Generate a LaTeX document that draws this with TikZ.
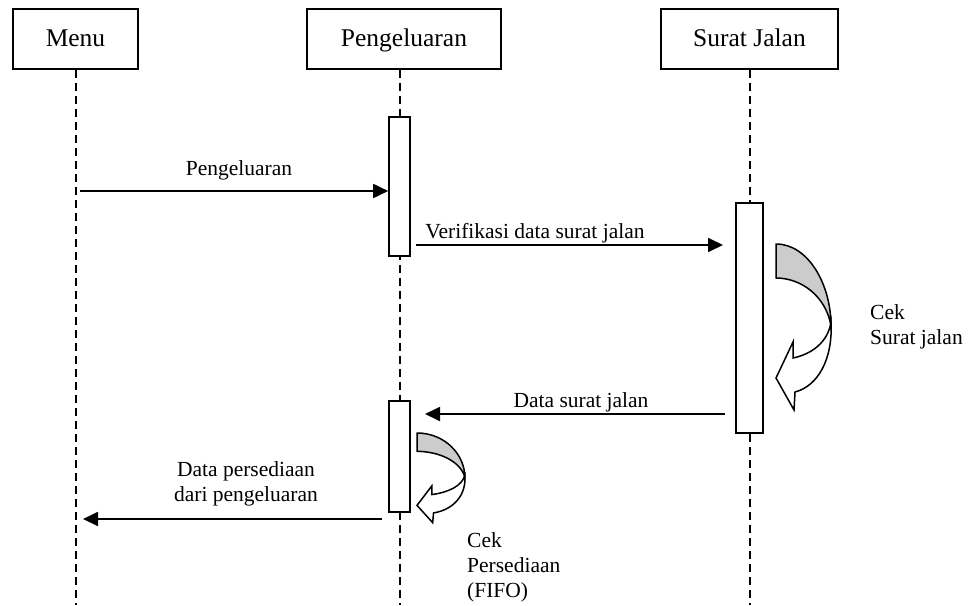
\documentclass[tikz,border=0pt]{standalone}
\usepackage{fontspec}
\setmainfont{Liberation Serif}
\usetikzlibrary{arrows.meta}
\definecolor{backface}{RGB}{204,204,204}
\begin{document}
\begin{tikzpicture}[x=1pt,y=-1pt,
  obj/.style={draw,line width=1.8pt,minimum width=#1,minimum height=60pt,
    inner sep=0pt,text height=18pt,text depth=3pt,font=\fontsize{25.5}{30}\selectfont},
  life/.style={line width=1.3pt,dash pattern=on 8pt off 5pt},
  act/.style 2 args={draw,fill=white,line width=1.6pt,minimum width=#1,
    minimum height=#2,inner sep=0pt},
  msg/.style={line width=1.8pt,-{Triangle[length=15pt,width=14pt]}},
  lbl/.style={font=\fontsize{21.5}{25}\selectfont,inner sep=0pt,align=center},
  note/.style={font=\fontsize{21.5}{25}\selectfont,inner sep=0pt,align=left,anchor=base west},
  selfarrow/.pic={
    % back face of the twisted ribbon
    \filldraw[fill=backface,line width=1.5pt,line join=round]
      (0,0) .. controls (32,0) and (55,40) .. (55,82)
      .. controls (50,52) and (25,34) .. (0,34) -- cycle;
    % front face with the arrow head
    \filldraw[fill=white,line width=1.5pt,line join=miter]
      (55,78) .. controls (52,98) and (36,110) .. (17,114)
      -- (17,98) -- (0,134) -- (18,166) -- (19,148)
      .. controls (42,142) and (57,115) .. (55,78) -- cycle;
  }
]
\useasboundingbox (0,0) rectangle (968,605);

% objects
\node[obj=125pt] (menu)  at (75.5,39)  {Menu};
\node[obj=194pt] (peng)  at (404,39)   {Pengeluaran};
\node[obj=177pt] (surat) at (749.5,39) {Surat Jalan};

% lifelines
\coordinate (menuEnd)  at (76,605);
\coordinate (pengEnd)  at (400,605);
\coordinate (suratEnd) at (750,605);
\draw[life] (menu.south -| menuEnd) -- (menuEnd);
\draw[life] (peng.south -| pengEnd) -- (pengEnd);
\draw[life] (surat.south -| suratEnd) -- (suratEnd);

% activations
\node[act={21pt}{139pt}] (actA) at (399.5,186.5) {};
\node[act={27pt}{230pt}] (actB) at (749.5,318)   {};
\node[act={21pt}{111pt}] (actC) at (399.5,456.5) {};

% messages
\coordinate (m1) at (80,191);
\coordinate (m2a) at (416,245);
\coordinate (m2b) at (723,245);
\coordinate (m3a) at (725,414);
\coordinate (m3b) at (425,414);
\coordinate (m4a) at (382,519);
\coordinate (m4b) at (83,519);
\draw[msg] (m1) -- (m1 -| actA.west);
\draw[msg] (m2a) -- (m2b);
\draw[msg] (m3a) -- (m3b);
\draw[msg] (m4a) -- (m4b);

% message labels (base = baseline of the last line)
\node[lbl,anchor=base] (l1) at (239,175) {Pengeluaran};
\node[lbl,anchor=base] (l2) at (535,238) {Verifikasi data surat jalan};
\node[lbl,anchor=base] (l3) at (581,407) {Data surat jalan};
\node[lbl,anchor=base] (l4) at (246,501) {Data persediaan\\dari pengeluaran};

% self calls
\pic at (776,244) {selfarrow};
\pic[xscale=0.87,yscale=0.54] at (417,433) {selfarrow};
\node[note] (n1) at (870,344) {Cek\\Surat jalan};
\node[note] (n2) at (467,597) {Cek\\Persediaan\\(FIFO)};
\end{tikzpicture}
\end{document}
